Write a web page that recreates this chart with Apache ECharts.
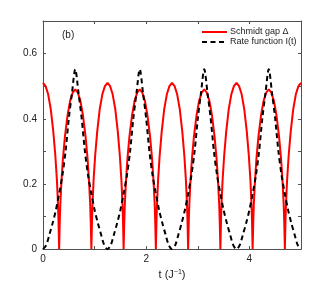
<!DOCTYPE html>
<html><head><meta charset="utf-8">
<script src="https://cdn.jsdelivr.net/npm/echarts@6/dist/echarts.min.js"></script>
<style>html,body{margin:0;padding:0;background:#fff}#c{width:332px;height:285px}</style>
</head><body><div id="c"></div>
<script>
// Schmidt gap Δ, [t, value]
const schmidtGap = [
[0,.51],[.05,.50],[.1,.475],[.15,.43],[.2,.36],[.24,.285],[.27,.21],[.29,.14],[.3,.09],[.3125,0],
[.325,.085],[.335,.135],[.355,.2],[.385,.275],[.425,.345],[.475,.41],[.525,.455],[.575,.48],[.625,.49],[.675,.48],[.725,.455],[.775,.41],[.825,.345],[.865,.275],[.895,.2],[.915,.135],[.925,.085],[.9375,0],
[.95,.09],[.96,.14],[.98,.21],[1.01,.285],[1.05,.36],[1.1,.43],[1.15,.475],[1.2,.50],[1.25,.51],[1.3,.50],[1.35,.475],[1.4,.43],[1.45,.36],[1.49,.285],[1.52,.21],[1.54,.14],[1.55,.09],[1.5625,0],
[1.575,.085],[1.585,.135],[1.605,.2],[1.635,.275],[1.675,.345],[1.725,.41],[1.775,.455],[1.825,.48],[1.875,.49],[1.925,.48],[1.975,.455],[2.025,.41],[2.075,.345],[2.115,.275],[2.145,.2],[2.165,.135],[2.175,.085],[2.1875,0],
[2.2,.09],[2.21,.14],[2.23,.21],[2.26,.285],[2.3,.36],[2.35,.43],[2.4,.475],[2.45,.50],[2.5,.51],[2.55,.50],[2.6,.475],[2.65,.43],[2.7,.36],[2.74,.285],[2.77,.21],[2.79,.14],[2.8,.09],[2.8125,0],
[2.825,.085],[2.835,.135],[2.855,.2],[2.885,.275],[2.925,.345],[2.975,.41],[3.025,.455],[3.075,.48],[3.125,.49],[3.175,.48],[3.225,.455],[3.275,.41],[3.325,.345],[3.365,.275],[3.395,.2],[3.415,.135],[3.425,.085],[3.4375,0],
[3.45,.09],[3.46,.14],[3.48,.21],[3.51,.285],[3.55,.36],[3.6,.43],[3.65,.475],[3.7,.50],[3.75,.51],[3.8,.50],[3.85,.475],[3.9,.43],[3.95,.36],[3.99,.285],[4.02,.21],[4.04,.14],[4.05,.09],[4.0625,0],
[4.075,.085],[4.085,.135],[4.105,.2],[4.135,.275],[4.175,.345],[4.225,.41],[4.275,.455],[4.325,.48],[4.375,.49],[4.425,.48],[4.475,.455],[4.525,.41],[4.575,.345],[4.615,.275],[4.645,.2],[4.665,.135],[4.675,.085],[4.6875,0],
[4.7,.09],[4.71,.14],[4.73,.21],[4.76,.285],[4.8,.36],[4.85,.43],[4.9,.475],[4.95,.50],[5,.51]
];
// Rate function I(t), [t, value]
const rateFunction = [
[0,0],[.0625,.012],[.125,.045],[.1875,.08],[.25,.12],[.3125,.17],[.375,.225],[.4375,.30],[.5,.40],[.5625,.48],[.625,.552],
[.6875,.48],[.75,.40],[.8125,.30],[.875,.225],[.9375,.17],[1,.12],[1.0625,.08],[1.125,.045],[1.1875,.012],[1.25,0],
[1.3125,.012],[1.375,.045],[1.4375,.08],[1.5,.12],[1.5625,.17],[1.625,.225],[1.6875,.30],[1.75,.40],[1.8125,.48],[1.875,.552],
[1.9375,.48],[2,.40],[2.0625,.30],[2.125,.225],[2.1875,.17],[2.25,.12],[2.3125,.08],[2.375,.045],[2.4375,.012],[2.5,0],
[2.5625,.012],[2.625,.045],[2.6875,.08],[2.75,.12],[2.8125,.17],[2.875,.225],[2.9375,.30],[3,.40],[3.0625,.48],[3.125,.552],
[3.1875,.48],[3.25,.40],[3.3125,.30],[3.375,.225],[3.4375,.17],[3.5,.12],[3.5625,.08],[3.625,.045],[3.6875,.012],[3.75,0],
[3.8125,.012],[3.875,.045],[3.9375,.08],[4,.12],[4.0625,.17],[4.125,.225],[4.1875,.30],[4.25,.40],[4.3125,.48],[4.375,.552],
[4.4375,.48],[4.5,.40],[4.5625,.30],[4.625,.225],[4.6875,.17],[4.75,.12],[4.8125,.08],[4.875,.045],[4.9375,.012],[5,0]
];
const xTickLabels = ['0','2','4'];
const yTickLabels = ['0','0.2','0.4','0.6'];
const seriesNames = ['Schmidt gap \u0394','Rate function I(t)'];

const FONT = 'Liberation Sans, Arial, sans-serif';
const axisCol = '#505050';
const chart = echarts.init(document.getElementById('c'), null, {renderer:'canvas'});
const common = {
  axisLine:{show:true,onZero:false,lineStyle:{color:axisCol,width:1}},
  axisTick:{show:true,inside:true,length:3,lineStyle:{color:axisCol}},
  splitLine:{show:false}
};
chart.setOption({
  animation:false,
  backgroundColor:'#fff',
  title:{text:'(b)',left:62,top:30,padding:0,textStyle:{fontFamily:FONT,fontSize:10,fontWeight:'normal',color:'#222'}},
  legend:{
    data:seriesNames, left:201, top:27.5, padding:0, orient:'vertical', itemWidth:25, itemHeight:10, itemGap:1,
    itemStyle:{opacity:0},
    textStyle:{fontFamily:FONT,fontSize:9,color:'#222',padding:[0,0,0,-2]}
  },
  grid:{left:43,right:31,top:21,bottom:33},
  xAxis:[
    Object.assign({type:'value',min:0,max:5,interval:1,position:'bottom',
      name:'{a|t (J}{s|\u22121}{a|)}',nameLocation:'middle',nameGap:14,
      nameTextStyle:{rich:{a:{fontFamily:FONT,fontSize:11,color:'#222'},s:{fontFamily:FONT,fontSize:7,color:'#222',verticalAlign:'top',padding:[0,0,4,0]}}},
      axisLabel:{fontFamily:FONT,fontSize:10,color:'#222',margin:5,
        formatter:v=>{const s=String(Math.round(v));return xTickLabels.includes(s)?s:'';}}},common),
    Object.assign({type:'value',min:0,max:5,interval:1,position:'top',axisLabel:{show:false}},common)
  ],
  yAxis:[
    Object.assign({type:'value',min:0,max:0.7,interval:0.1,position:'left',
      axisLabel:{fontFamily:FONT,fontSize:10,color:'#222',margin:6,
        formatter:v=>{const s=String(Math.round(v*10)/10);return yTickLabels.includes(s)?s:'';}}},common),
    Object.assign({type:'value',min:0,max:0.7,interval:0.1,position:'right',axisLabel:{show:false}},common)
  ],
  series:[
    {name:seriesNames[0],type:'line',data:schmidtGap,showSymbol:false,symbol:'none',
     lineStyle:{color:'#ff0000',width:2},itemStyle:{color:'#ff0000'},z:2},
    {name:seriesNames[1],type:'line',data:rateFunction,showSymbol:false,symbol:'none',smooth:0.3,
     lineStyle:{color:'#000',width:2,type:[5,3.5]},itemStyle:{color:'#000'},z:3}
  ]
});
</script></body></html>
